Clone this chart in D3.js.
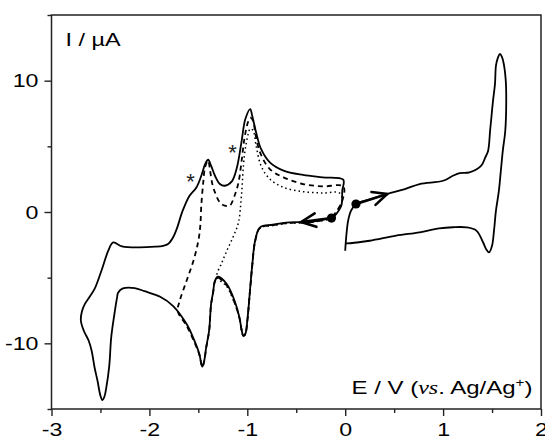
<!DOCTYPE html>
<html>
<head>
<meta charset="utf-8">
<script src="https://cdn.jsdelivr.net/npm/d3@7"></script>
<style>
html,body{margin:0;padding:0;background:#fff;}
svg{display:block;}
</style>
</head>
<body>
<svg id="chart" width="545" height="439"></svg>
<script>
// ---- data (E / V, I / µA) ----
const xMajorTicks = [-3, -2, -1, 0, 1, 2];
const xMinorTicks = [-2.5, -1.5, -0.5, 0.5, 1.5];
const yMajorTicks = [-10, 0, 10];
const yMinorTicks = [-15, -5, 5, 15];

// full scan, negative direction (solid)
const solidNeg = [
  [-0.14,-0.46],[-0.36,-0.74],[-0.57,-0.79],[-0.74,-0.97],[-0.87,-1.17],[-0.92,-2.19],
  [-0.95,-4.09],[-0.97,-5.74],[-1.00,-8.28],[-1.02,-9.27],[-1.04,-9.42],[-1.06,-8.89],
  [-1.08,-8.03],[-1.13,-6.76],[-1.21,-5.48],[-1.30,-4.93],[-1.33,-5.23],[-1.35,-6.15],
  [-1.37,-7.01],[-1.39,-9.04],[-1.42,-10.31],[-1.44,-11.33],[-1.46,-11.78],[-1.49,-10.81],
  [-1.54,-9.80],[-1.62,-8.53],[-1.76,-7.14],[-1.89,-6.45],[-2.05,-6.03],[-2.15,-5.79],
  [-2.27,-5.82],[-2.32,-6.15],[-2.33,-6.50],[-2.36,-7.90],[-2.39,-9.55],[-2.41,-11.71],
  [-2.44,-13.36],[-2.46,-14.07],[-2.48,-14.32],[-2.50,-13.99],[-2.53,-12.85],[-2.56,-11.84],
  [-2.59,-10.56],[-2.62,-9.80],[-2.67,-9.04],[-2.70,-8.28],[-2.69,-7.59],[-2.66,-7.01],
  [-2.61,-6.45],[-2.56,-5.86],[-2.49,-4.47],[-2.42,-2.95],[-2.37,-2.32],[-2.28,-2.62],
  [-2.11,-2.70],[-1.94,-2.64],[-1.86,-2.57],[-1.81,-2.44],[-1.76,-1.96],[-1.72,-1.27],
  [-1.66,0.10],[-1.59,1.24],[-1.52,1.87],[-1.47,2.76],[-1.43,3.66],[-1.40,3.98],
  [-1.37,3.53],[-1.33,2.76],[-1.28,2.13],[-1.23,2.00],[-1.16,2.31],[-1.11,3.27],
  [-1.06,5.30],[-1.02,7.08],[-0.97,7.84],[-0.95,7.33],[-0.91,6.06],[-0.86,4.80],
  [-0.77,3.78],[-0.63,3.15],[-0.43,2.82],[-0.23,2.64],[-0.02,2.46],[-0.03,1.62],
  [-0.04,0.48],[-0.12,-0.41]
];

// full scan, positive direction (solid)
const solidPos = [
  [0.00,-2.95],[0.01,-1.93],[0.03,-0.66],[0.06,0.10],[0.11,0.61],[0.25,0.94],[0.43,1.37],
  [0.61,1.74],[0.76,2.13],[1.00,2.38],[1.10,2.76],[1.17,2.96],[1.27,3.02],[1.39,3.53],
  [1.43,4.14],[1.46,4.67],[1.48,6.19],[1.49,6.95],[1.51,8.48],[1.53,9.75],[1.54,11.14],
  [1.56,11.75],[1.58,12.03],[1.60,11.83],[1.62,11.27],[1.64,10.00],[1.645,8.48],[1.635,6.19],
  [1.61,4.67],[1.59,3.15],[1.57,1.62],[1.54,0.10],[1.52,-1.42],[1.50,-2.57],[1.47,-3.08],
  [1.44,-2.83],[1.41,-2.34],[1.34,-1.42],[1.24,-1.17],[1.10,-1.16],[0.96,-1.25],[0.76,-1.55],
  [0.52,-1.80],[0.25,-2.19],[0.05,-2.38],[0.01,-2.39]
];

// scan reversed at -1.71 V (dashed)
const dashedScan = [
  [-0.14,-0.50],[-0.36,-0.78],[-0.57,-0.83],[-0.74,-1.01],[-0.87,-1.21],[-0.92,-2.23],
  [-0.95,-4.13],[-0.97,-5.78],[-1.00,-8.32],[-1.02,-9.30],[-1.04,-9.44],[-1.06,-8.93],
  [-1.08,-8.08],[-1.13,-6.90],[-1.21,-5.60],[-1.30,-5.02],[-1.33,-5.28],[-1.35,-6.20],
  [-1.37,-7.06],[-1.39,-9.08],[-1.42,-10.35],[-1.44,-11.36],[-1.46,-11.80],[-1.49,-10.86],
  [-1.54,-9.92],[-1.62,-8.66],[-1.71,-7.55],
  [-1.69,-6.76],[-1.62,-5.23],[-1.55,-3.71],[-1.50,-2.19],[-1.48,-1.04],[-1.47,0.48],
  [-1.45,2.25],[-1.43,3.45],[-1.40,3.91],[-1.38,3.15],[-1.36,2.23],[-1.33,1.49],
  [-1.28,0.73],[-1.23,0.48],[-1.18,0.48],[-1.13,1.24],[-1.09,2.25],[-1.06,3.78],
  [-1.03,5.56],[-0.995,6.80],[-0.97,7.18],[-0.94,6.95],[-0.92,6.06],[-0.87,4.54],
  [-0.77,3.27],[-0.63,2.64],[-0.43,2.13],[-0.23,1.95],[-0.02,1.95],[-0.03,0.85],[-0.12,-0.28]
];

// scan reversed at -1.31 V (dotted)
const dottedScan = [
  [-0.14,-0.52],[-0.36,-0.80],[-0.57,-0.85],[-0.74,-1.03],[-0.87,-1.23],[-0.92,-2.25],
  [-0.95,-4.15],[-0.97,-5.80],[-1.00,-8.34],[-1.02,-9.32],[-1.04,-9.46],[-1.06,-8.95],
  [-1.08,-8.10],[-1.13,-6.95],[-1.21,-5.66],[-1.31,-4.93],
  [-1.26,-3.86],[-1.20,-2.80],[-1.14,-1.81],[-1.09,-0.79],[-1.06,1.24],[-1.03,4.29],
  [-0.99,5.96],[-0.97,6.34],[-0.94,6.19],[-0.91,5.05],[-0.86,3.53],[-0.77,2.51],
  [-0.63,1.87],[-0.43,1.55],[-0.23,1.45],[-0.06,1.45],[-0.03,0.86],[-0.10,-0.13]
];

// starting points with scan-direction arrows: [start E, start I, tip E, tip I]
const startArrows = [
  [-0.14, -0.46, -0.45, -0.76],
  [0.11, 0.61, 0.43, 1.37]
];

// asterisk marks
const starMarks = [[-1.58, 2.51], [-1.15, 4.74]];

// ---- drawing ----
const svg = d3.select("#chart");
const L = 51.5, R = 541, T = 15, B = 409;
const x = d3.scaleLinear().domain([-3, 2]).range([L, R]);
const y = d3.scaleLinear().domain([-15, 15]).range([B, T]);
const STRETCH = 1.22;
const FONT = "'Liberation Sans', Arial, Helvetica, sans-serif";

function stretchText(sel) {
  sel.each(function () {
    const w = this.getComputedTextLength();
    if (w > 0) {
      this.setAttribute("textLength", (w * STRETCH).toFixed(2));
      this.setAttribute("lengthAdjust", "spacingAndGlyphs");
    }
  });
}

// axes
const gx = svg.append("g").attr("transform", `translate(0,${B})`)
  .call(d3.axisBottom(x).tickValues(xMajorTicks).tickSize(7).tickPadding(7)
    .tickFormat(d => String(d)));
const gxm = svg.append("g").attr("transform", `translate(0,${B})`)
  .call(d3.axisBottom(x).tickValues(xMinorTicks).tickSize(4).tickFormat(""));
const gy = svg.append("g").attr("transform", `translate(${L},0)`)
  .call(d3.axisLeft(y).tickValues(yMajorTicks).tickSize(7).tickPadding(6)
    .tickFormat(d => String(d)));
const gym = svg.append("g").attr("transform", `translate(${L},0)`)
  .call(d3.axisLeft(y).tickValues(yMinorTicks).tickSize(4).tickFormat(""));

[gx, gxm, gy, gym].forEach(g => {
  g.select(".domain").remove();
  g.selectAll(".tick line").attr("stroke", "#222").attr("stroke-width", 1.4);
  g.selectAll(".tick text").attr("fill", "#000").style("font-family", FONT).style("font-size", "19px");
});
stretchText(gx.selectAll(".tick text"));
stretchText(gy.selectAll(".tick text"));

// frame
svg.append("rect").attr("x", L).attr("y", T).attr("width", R - L).attr("height", B - T)
  .attr("fill", "none").attr("stroke", "#222").attr("stroke-width", 1.5);

// curves
const line = d3.line().x(d => x(d[0])).y(d => y(d[1])).curve(d3.curveCatmullRom.alpha(0.5));
const plot = svg.append("g");

plot.append("path").datum(dottedScan).attr("d", line)
  .attr("fill", "none").attr("stroke", "#000").attr("stroke-width", 1.5)
  .attr("stroke-dasharray", "1.5,3").attr("stroke-linecap", "butt");
plot.append("path").datum(dashedScan).attr("d", line)
  .attr("fill", "none").attr("stroke", "#000").attr("stroke-width", 1.8)
  .attr("stroke-dasharray", "5,4");
[solidNeg, solidPos].forEach(s => {
  plot.append("path").datum(s).attr("d", line)
    .attr("fill", "none").attr("stroke", "#000").attr("stroke-width", 1.8)
    .attr("stroke-linejoin", "round");
});

// arrows and start dots
startArrows.forEach(a => {
  const x0 = x(a[0]), y0 = y(a[1]), x1 = x(a[2]), y1 = y(a[3]);
  const ang = Math.atan2(y0 - y1, x0 - x1);
  const hl = 16, ha = 25 * Math.PI / 180;
  plot.append("line").attr("x1", x0).attr("y1", y0).attr("x2", x1).attr("y2", y1)
    .attr("stroke", "#000").attr("stroke-width", 2.6);
  const p1 = [x1 + hl * Math.cos(ang + ha), y1 + hl * Math.sin(ang + ha)];
  const p2 = [x1 + hl * Math.cos(ang - ha), y1 + hl * Math.sin(ang - ha)];
  plot.append("path").attr("d", `M${p1[0]},${p1[1]}L${x1},${y1}L${p2[0]},${p2[1]}`)
    .attr("fill", "none").attr("stroke", "#000").attr("stroke-width", 2.6)
    .attr("stroke-linecap", "round").attr("stroke-linejoin", "miter");
  plot.append("circle").attr("cx", x0).attr("cy", y0).attr("r", 4.6).attr("fill", "#000");
});

// asterisks
plot.selectAll("text.star").data(starMarks).enter().append("text")
  .attr("class", "star")
  .attr("x", d => x(d[0])).attr("y", d => y(d[1]) + 10)
  .attr("text-anchor", "middle")
  .style("font-family", FONT).style("font-size", "22px").attr("fill", "#222")
  .text("*");

// axis titles
svg.append("text").attr("x", 65.5).attr("y", 46)
  .style("font-family", FONT).style("font-size", "19px").attr("fill", "#000")
  .attr("textLength", 55).attr("lengthAdjust", "spacingAndGlyphs")
  .text("I / µA");

const xt = svg.append("text").attr("x", 351.5).attr("y", 394)
  .style("font-family", FONT).style("font-size", "19px").attr("fill", "#000")
  .attr("textLength", 181).attr("lengthAdjust", "spacingAndGlyphs");
xt.append("tspan").text("E / V (");
xt.append("tspan").style("font-family", "'Liberation Serif', 'Times New Roman', serif")
  .style("font-style", "italic").text("vs");
xt.append("tspan").text(". Ag/Ag");
xt.append("tspan").attr("dy", -7).style("font-size", "12px").text("+");
xt.append("tspan").attr("dy", 7).text(")");
</script>
</body>
</html>
